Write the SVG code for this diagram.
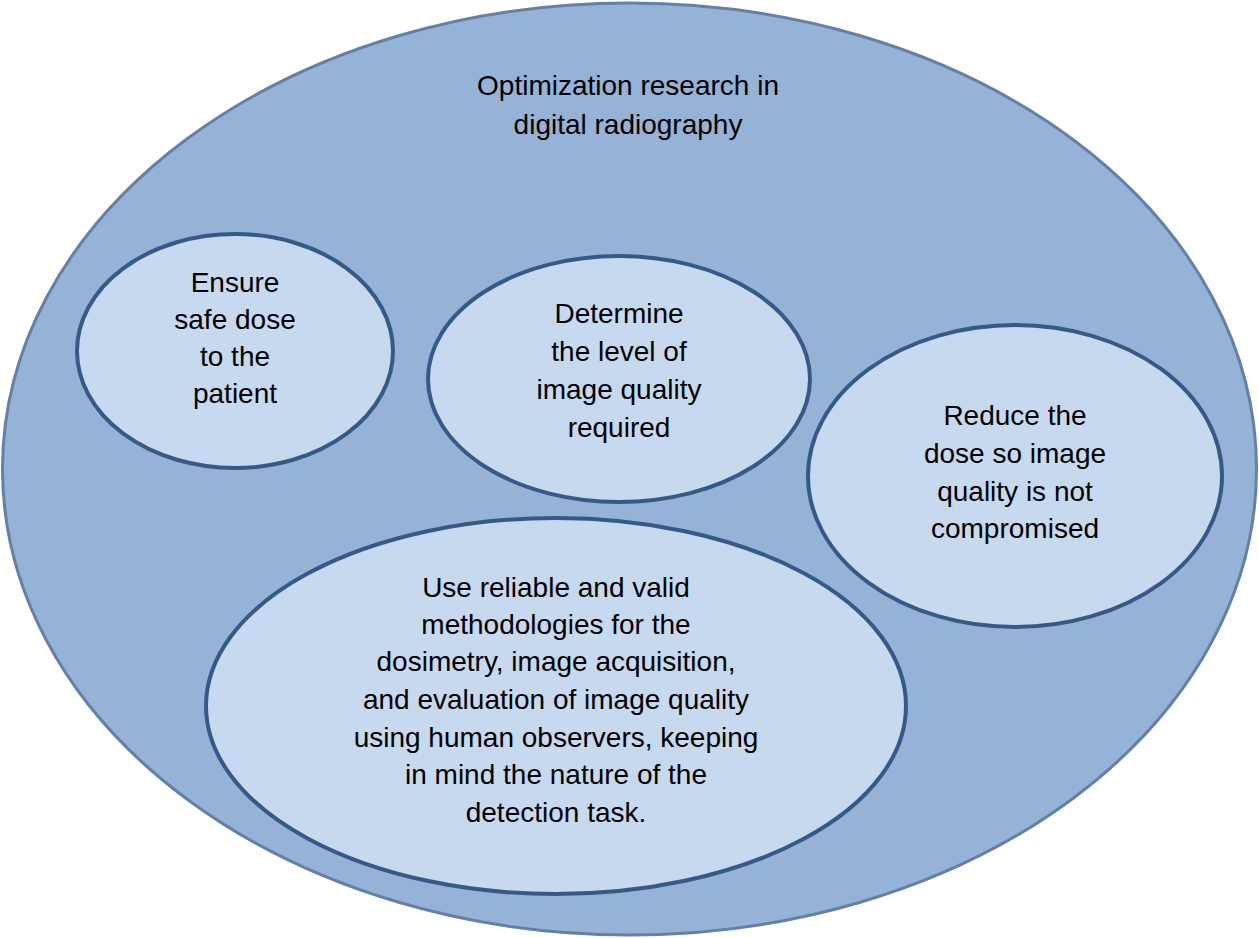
<svg xmlns="http://www.w3.org/2000/svg" width="1259" height="938" viewBox="0 0 1259 938">
<style>
.o{fill:#95b3d7;stroke:#6480a6;stroke-width:3}
.i{fill:#c6d9ef;stroke:#365a88;stroke-width:4}
text{font-family:"Liberation Sans",Arial,sans-serif;font-size:28px;fill:#000;text-anchor:middle}
</style>
<rect width="1259" height="938" fill="#fff"/>
<g id="outer"><ellipse class="o" cx="629.5" cy="469" rx="627" ry="466"/>
<text x="628" y="95">Optimization research in</text><text x="628" y="134">digital radiography</text></g>
<g id="n1"><ellipse class="i" cx="235" cy="351" rx="158" ry="117"/>
<text x="235" y="292">Ensure</text><text x="235" y="329">safe dose</text><text x="235" y="366">to the</text><text x="235" y="403">patient</text></g>
<g id="n2"><ellipse class="i" cx="619" cy="379" rx="191" ry="123"/>
<text x="619" y="323">Determine</text><text x="619" y="361">the level of</text><text x="619" y="399">image quality</text><text x="619" y="437">required</text></g>
<g id="n3"><ellipse class="i" cx="1015" cy="476" rx="207" ry="151"/>
<text x="1015" y="425">Reduce the</text><text x="1015" y="463">dose so image</text><text x="1015" y="501">quality is not</text><text x="1015" y="538">compromised</text></g>
<g id="n4"><ellipse class="i" cx="556" cy="706" rx="350" ry="188"/>
<text x="556" y="597">Use reliable and valid</text><text x="556" y="634">methodologies for the</text><text x="556" y="671">dosimetry, image acquisition,</text><text x="556" y="709">and evaluation of image quality</text><text x="556" y="747">using human observers, keeping</text><text x="556" y="784">in mind the nature of the</text><text x="556" y="822">detection task.</text></g>
<g id="connectors"/>
</svg>
